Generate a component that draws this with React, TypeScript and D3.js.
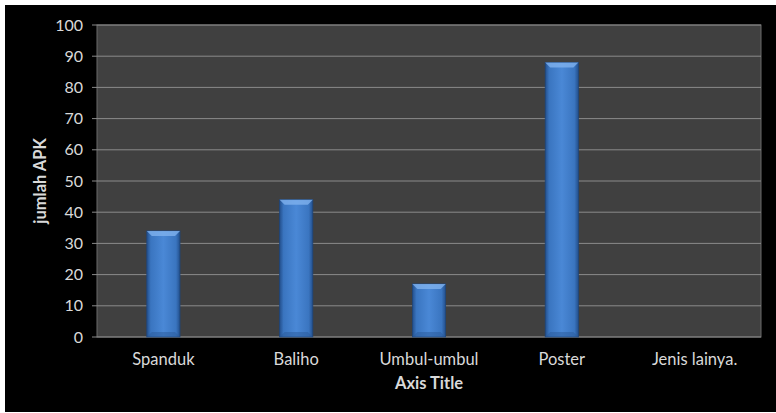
import React from "react";
import * as d3 from "d3";

const categories = ["Spanduk", "Baliho", "Umbul-umbul", "Poster", "Jenis lainya."];
const values = [34, 44, 17, 88, 0];
const yTicks = [0, 10, 20, 30, 40, 50, 60, 70, 80, 90, 100];

export default function App() {
  const W = 776, H = 413;
  const left = 97, right = 761, top = 25, bottom = 337;
  const x = d3.scaleBand<string>().domain(categories).range([left, right]).paddingInner(0.75).paddingOuter(0.375);
  const y = d3.scaleLinear().domain([0, 100]).range([bottom, top]);
  const font = "Lato, 'Open Sans', sans-serif";
  const bw = x.bandwidth();
  return (
    <svg width={W} height={H} style={{ position: "absolute", left: 0, top: 0 }}>
      <defs>
        <linearGradient id="barg" x1="0" x2="1" y1="0" y2="0">
          <stop offset="0" stopColor="#234f8c" />
          <stop offset="0.12" stopColor="#3a75c0" />
          <stop offset="0.5" stopColor="#4a88d6" />
          <stop offset="0.88" stopColor="#3a75c0" />
          <stop offset="1" stopColor="#234f8c" />
        </linearGradient>
      </defs>
      <rect x={0} y={0} width={W} height={H} fill="#ffffff" />
      <rect x={5} y={5} width={W - 5} height={407} fill="#000000" />
      <rect x={left} y={top} width={right - left} height={bottom - top} fill="#404040" stroke="#6a6a6a" strokeWidth={1} />
      {yTicks.map((t) => (
        <g key={t}>
          <line x1={92} x2={right} y1={y(t)} y2={y(t)} stroke="#8a8a8a" strokeWidth={1} />
          <text x={83} y={y(t) + 5.5} fill="#d9d9d9" fontSize={16} textAnchor="end" fontFamily={font}>{t}</text>
        </g>
      ))}
      {categories.map((c, i) => {
        const x0 = x(c)!;
        const yt = y(values[i]);
        const h = bottom - yt;
        if (h <= 0) return null;
        const b = Math.min(5, h / 2);
        return (
          <g key={c}>
            <rect x={x0} y={yt} width={bw} height={h} fill="url(#barg)" stroke="#1f467c" strokeWidth={0.8} />
            <polygon points={`${x0},${yt} ${x0 + bw},${yt} ${x0 + bw - b},${yt + b} ${x0 + b},${yt + b}`} fill="#7fb2ee" opacity={0.8} />
            <polygon points={`${x0},${bottom} ${x0 + bw},${bottom} ${x0 + bw - b},${bottom - b} ${x0 + b},${bottom - b}`} fill="#2a5a9a" opacity={0.5} />
          </g>
        );
      })}
      {categories.map((c) => (
        <text key={c} x={x(c)! + bw / 2} y={365} fill="#d9d9d9" fontSize={16.5} textAnchor="middle" fontFamily={font}>{c}</text>
      ))}
      <text x={(left + right) / 2} y={389} fill="#d9d9d9" fontSize={16.5} fontWeight="bold" textAnchor="middle" fontFamily={font}>Axis Title</text>
      <text transform={`translate(46,${(top + bottom) / 2}) rotate(-90)`} fill="#d9d9d9" fontSize={16.5} fontWeight="bold" textAnchor="middle" fontFamily={font}>jumlah APK</text>
    </svg>
  );
}
